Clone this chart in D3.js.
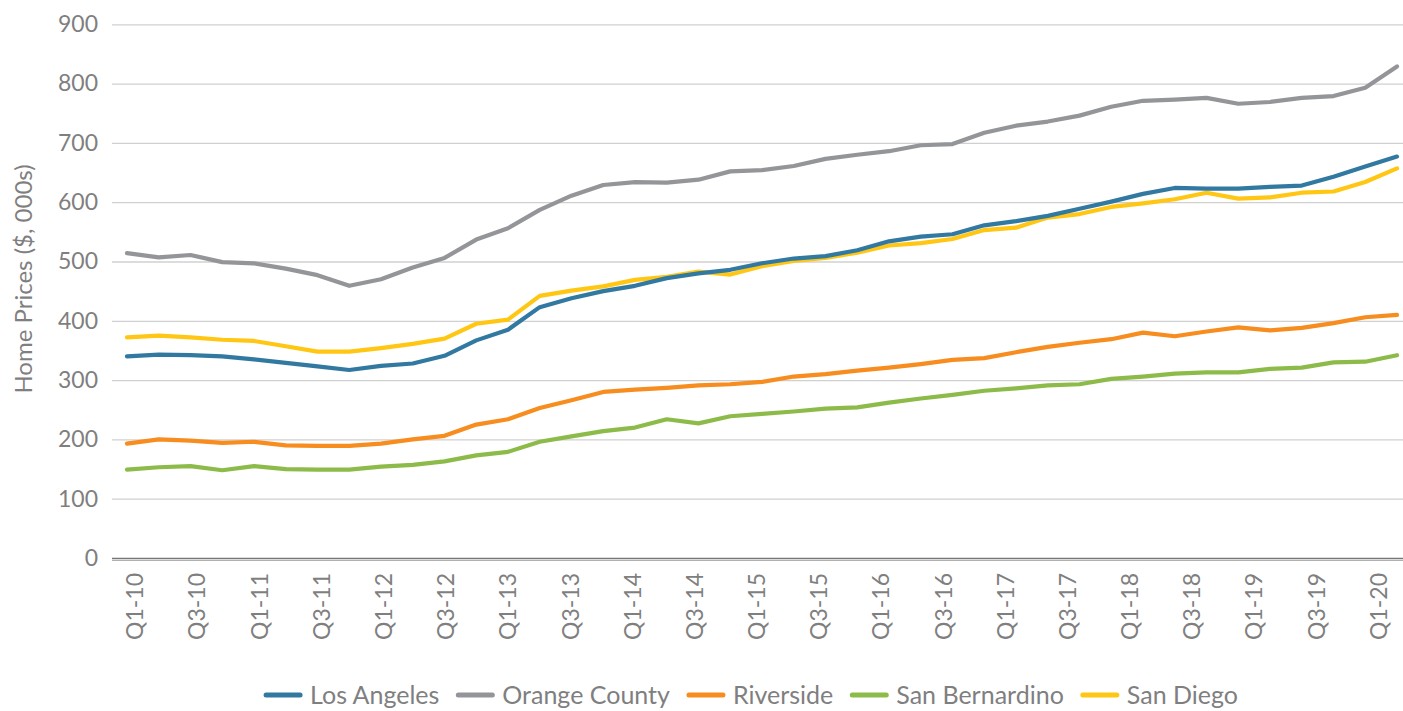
<!DOCTYPE html>
<html>
<head>
<meta charset="utf-8">
<script src="https://cdn.jsdelivr.net/npm/d3@7/dist/d3.min.js"></script>
<style>
body { margin: 0; background: #fff; }
text { font-family: Lato, "Source Sans Pro", sans-serif; fill: #7f7f7f; }
</style>
</head>
<body>
<div id="chartContainer"></div>
<script>
// quarters on the x axis
var quarters = ["Q1-10","Q2-10","Q3-10","Q4-10","Q1-11","Q2-11","Q3-11","Q4-11",
  "Q1-12","Q2-12","Q3-12","Q4-12","Q1-13","Q2-13","Q3-13","Q4-13",
  "Q1-14","Q2-14","Q3-14","Q4-14","Q1-15","Q2-15","Q3-15","Q4-15",
  "Q1-16","Q2-16","Q3-16","Q4-16","Q1-17","Q2-17","Q3-17","Q4-17",
  "Q1-18","Q2-18","Q3-18","Q4-18","Q1-19","Q2-19","Q3-19","Q4-19","Q1-20"];

// home prices, $ 000s
var losAngeles = [340,343,342,340,335,329,323,317,324,328,341,367,385,423,438,450,459,472,480,486,
  497,505,509,519,534,542,546,561,568,577,589,601,614,624,623,623,626,628,643,660,677];
var orangeCounty = [514,507,511,499,497,488,477,459,470,490,506,537,556,587,611,629,634,633,638,652,
  654,661,673,680,686,696,698,717,729,736,746,761,771,773,776,766,769,776,779,793,829];
var riverside = [193,200,198,194,196,190,189,189,193,200,206,225,234,253,266,280,284,287,291,293,
  297,306,310,316,321,327,334,337,347,356,363,369,380,374,382,389,384,388,396,406,410];
var sanBernardino = [149,153,155,148,155,150,149,149,154,157,163,173,179,196,205,214,220,234,227,239,
  243,247,252,254,262,269,275,282,286,291,293,302,306,311,313,313,319,321,330,331,342];
var sanDiego = [372,375,372,368,366,357,348,348,354,361,370,395,402,442,451,458,469,474,483,478,
  492,501,506,515,527,531,538,553,557,574,580,592,598,605,616,606,608,616,618,634,657];

var yTicks = [0,100,200,300,400,500,600,700,800,900];

var series = [
  {name: "Los Angeles", values: losAngeles, color: "#3279a1"},
  {name: "Orange County", values: orangeCounty, color: "#939598"},
  {name: "Riverside", values: riverside, color: "#f78c1f"},
  {name: "San Bernardino", values: sanBernardino, color: "#8dbb4a"},
  {name: "San Diego", values: sanDiego, color: "#ffc713"}
];

var width = 1403, height = 711;
var plotLeft = 112, plotRight = 1403;

var svg = d3.select("#chartContainer")
  .append("svg")
    .attr("width", width)
    .attr("height", height);

var y = d3.scaleLinear().domain([0, 900]).range([558, 24.3]);
// points of the lines
var x = d3.scalePoint().domain(quarters).range([127, 1397]);
// category labels sit on their own spacing in the picture
var xLabel = d3.scalePoint().domain(quarters).range([134.5, 1378]);

// Y axis with gridlines
var yAxis = svg.append("g")
  .attr("transform", "translate(" + plotLeft + ",0)")
  .call(d3.axisLeft(y).tickValues(yTicks).tickSize(-(plotRight - plotLeft)).tickPadding(14));
yAxis.select(".domain").remove();
yAxis.selectAll("line")
  .attr("stroke", function(d) { return d == 0 ? "#767676" : "#d0d0d0"; })
  .attr("stroke-width", function(d) { return d == 0 ? 1.6 : 1.3; });
yAxis.selectAll("text")
  .style("font-size", "23px")
  .attr("fill", "#7f7f7f");

// second thin line under the zero axis
svg.append("line")
  .attr("x1", plotLeft).attr("x2", plotRight)
  .attr("y1", y(0) + 2.5).attr("y2", y(0) + 2.5)
  .attr("stroke", "#b0b0b0")
  .attr("stroke-width", 1);

// X axis labels, every second quarter
var xAxis = svg.append("g")
  .attr("transform", "translate(0," + y(0) + ")")
  .call(d3.axisBottom(xLabel).tickValues(quarters.filter(function(d, i) { return i % 2 == 0; })).tickSize(0));
xAxis.select(".domain").remove();
xAxis.selectAll("text")
  .attr("transform", "rotate(-90)")
  .attr("x", -15)
  .attr("y", 0)
  .attr("dy", "0.36em")
  .style("text-anchor", "end")
  .style("font-size", "23px")
  .attr("fill", "#7f7f7f");

// Y axis title
svg.append("text")
  .attr("transform", "translate(32,279) rotate(-90)")
  .style("text-anchor", "middle")
  .style("font-size", "24px")
  .text("Home Prices ($, 000s)");

// the lines
var line = d3.line()
  .x(function(d, i) { return x(quarters[i]); })
  .y(function(d) { return y(d); });

var drawOrder = [1, 2, 3, 4, 0];
drawOrder.forEach(function(k) {
  svg.append("path")
    .datum(series[k].values)
    .attr("fill", "none")
    .attr("stroke", series[k].color)
    .attr("stroke-width", 4.2)
    .attr("stroke-linejoin", "round")
    .attr("stroke-linecap", "round")
    .attr("d", line);
});

// legend
var legend = svg.append("g").attr("transform", "translate(0,695)");
var cursor = 0;
var items = [];
series.forEach(function(s) {
  var g = legend.append("g");
  g.append("line")
    .attr("x1", 2).attr("x2", 36)
    .attr("y1", 0).attr("y2", 0)
    .attr("stroke", s.color)
    .attr("stroke-width", 5)
    .attr("stroke-linecap", "round");
  var t = g.append("text")
    .attr("x", 46)
    .attr("y", 0)
    .attr("dy", "0.36em")
    .style("font-size", "25px")
    .text(s.name);
  var w = 46 + t.node().getComputedTextLength();
  items.push({g: g, start: cursor});
  cursor += w + 17;
});
var totalWidth = cursor - 17;
var legendStart = 751 - totalWidth / 2;
items.forEach(function(it) {
  it.g.attr("transform", "translate(" + (legendStart + it.start) + ",0)");
});
</script>
</body>
</html>
